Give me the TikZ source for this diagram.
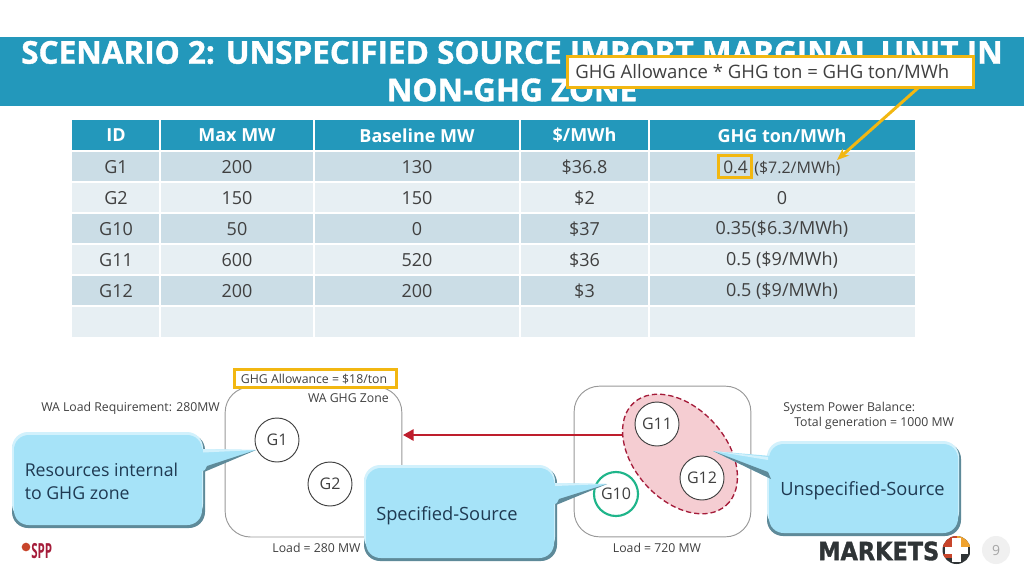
\documentclass[tikz,border=0pt]{standalone}
\usepackage{fontspec}
\setmainfont{Open Sans}
\newfontfamily\heavyfont[BoldFeatures={FakeBold=1.2}]{Open Sans}
\newfontfamily\logofont[BoldFeatures={FakeBold=1.5}]{DejaVu Sans}
\usetikzlibrary{shapes.geometric,arrows.meta}
\definecolor{band}{HTML}{2398BB}
\definecolor{rowdark}{HTML}{CBDDE6}
\definecolor{rowlight}{HTML}{E7EFF3}
\definecolor{ink}{HTML}{404040}
\definecolor{gold}{HTML}{F2B711}
\definecolor{darkred}{HTML}{A51C3A}
\definecolor{arrowred}{HTML}{BE1E2D}
\definecolor{pinkfill}{HTML}{F5CDD2}
\definecolor{callblue}{HTML}{A6E3F8}
\definecolor{callhi}{HTML}{D2F1FC}
\definecolor{calledge}{HTML}{5E8A99}
\definecolor{calltext}{HTML}{1F3A52}
\definecolor{green1}{HTML}{1FB58A}
\definecolor{logored}{HTML}{C8452B}
\definecolor{logoorange}{HTML}{EFA22E}
\definecolor{logodark}{HTML}{2F3436}
\tikzset{
  x=0.75pt,y=-0.75pt,
  cell/.style={text=ink,inner sep=0pt,font=\fontsize{13.5pt}{16pt}\selectfont},
  headcell/.style={text=white,inner sep=0pt,font=\fontsize{13.5pt}{16pt}\selectfont\bfseries},
  label/.style={text=ink,inner sep=0pt,font=\fontsize{9.2pt}{12pt}\selectfont},
  gen/.style={circle,draw=ink,line width=0.7pt,fill=white,minimum size=33pt,inner sep=0pt,text=ink,font=\fontsize{12pt}{14pt}\selectfont},
  zone/.style={draw=gray!80,line width=0.7pt,rounded corners=19pt,fill=white},
  callbox/.style={fill=callblue,rounded corners=11pt},
  callhigh/.style={fill=callhi,rounded corners=12pt},
  callshadow/.style={fill=calledge,rounded corners=12pt},
  calltxt/.style={text=calltext,inner sep=0pt,align=left,font=\fontsize{13.7pt}{17.5pt}\selectfont},
  titletxt/.style={text=white,inner sep=0pt,font=\heavyfont\fontsize{23.6pt}{26pt}\selectfont\bfseries},
  goldbox/.style={draw=gold,line width=2.2pt},
}
\begin{document}
\begin{tikzpicture}
\useasboundingbox (0,0) rectangle (1024,576);
\fill[white] (0,0) rectangle (1024,576);
% title band
\fill[band] (0,37) rectangle (1024,106);
\node[titletxt] (t1) at (512,52.5) {SCENARIO 2: UNSPECIFIED SOURCE IMPORT MARGINAL UNIT IN};
\node[titletxt] (t2) at (512,90) {NON-GHG ZONE};
% table
\fill[band] (72,120) rectangle (915,151);
\fill[rowdark] (72,151) rectangle (915,182);
\fill[rowlight] (72,182) rectangle (915,213);
\fill[rowdark] (72,213) rectangle (915,244);
\fill[rowlight] (72,244) rectangle (915,275);
\fill[rowdark] (72,275) rectangle (915,306);
\fill[rowlight] (72,306) rectangle (915,337);
\foreach \xx in {160,314,520,649} \draw[white,line width=0.9pt] (\xx,120) -- (\xx,337);
\foreach \yy in {151,182,213,244,275,306} \draw[white,line width=0.9pt] (72,\yy) -- (915,\yy);
\draw[white,line width=1.6pt] (72,151) -- (915,151);
\node[headcell] (h1) at (116,135.5) {ID};
\node[headcell] (h2) at (237,135.5) {Max MW};
\node[headcell] (h3) at (417,135.5) {Baseline MW};
\node[headcell] (h4) at (584.5,135.5) {\$/MWh};
\node[headcell] (h5) at (782,135.5) {GHG ton/MWh};
\node[cell] (a1) at (116,167.5) {G1};
\node[cell] (a2) at (237,167.5) {200};
\node[cell] (a3) at (417,167.5) {130};
\node[cell] (a4) at (584.5,167.5) {\$36.8};
\node[cell,anchor=base west,font=\fontsize{13pt}{16pt}\selectfont] (a5) at (723,173) {0.4};
\node[cell,anchor=base west,font=\fontsize{12pt}{14pt}\selectfont] (a6) at (754,173) {(\$7.2/MWh)};
\node[cell] (b1) at (116,198.5) {G2};
\node[cell] (b2) at (237,198.5) {150};
\node[cell] (b3) at (417,198.5) {150};
\node[cell] (b4) at (584.5,198.5) {\$2};
\node[cell] (b5) at (782,198.5) {0};
\node[cell] (c1) at (116,229.5) {G10};
\node[cell] (c2) at (237,229.5) {50};
\node[cell] (c3) at (417,229.5) {0};
\node[cell] (c4) at (584.5,229.5) {\$37};
\node[cell] (c5) at (782,229.5) {0.35(\$6.3/MWh)};
\node[cell] (d1) at (116,260.5) {G11};
\node[cell] (d2) at (237,260.5) {600};
\node[cell] (d3) at (417,260.5) {520};
\node[cell] (d4) at (584.5,260.5) {\$36};
\node[cell] (d5) at (782,260.5) {0.5 (\$9/MWh)};
\node[cell] (e1) at (116,291.5) {G12};
\node[cell] (e2) at (237,291.5) {200};
\node[cell] (e3) at (417,291.5) {200};
\node[cell] (e4) at (584.5,291.5) {\$3};
\node[cell] (e5) at (782,291.5) {0.5 (\$9/MWh)};
% yellow callout
\node[goldbox,fill=white,inner sep=0pt,minimum width=305pt,minimum height=23pt] (note) at (770.5,72) {};
\node[text=ink,anchor=west,inner sep=0pt,font=\fontsize{13.9pt}{16pt}\selectfont] (notetext) at (575,72) {GHG Allowance * GHG ton = GHG ton/MWh};
\node[goldbox,inner sep=0pt,minimum width=25pt,minimum height=16.5pt] (hl) at (735,166.5) {};
\coordinate (notefoot) at (918,88);
\coordinate (notetip) at (837,160);
\draw[gold,line width=2.2pt,-{Stealth[length=9pt,width=7pt]}] (notefoot) -- (notetip);
% zones
\node[zone,minimum width=132.5pt,minimum height=112.5pt,inner sep=0pt] (wa) at (313.5,462) {};
\node[zone,minimum width=132.5pt,minimum height=113pt,inner sep=0pt] (mz) at (662.5,461.5) {};
\node[goldbox,fill=white,inner sep=0pt,minimum width=122pt,minimum height=13.5pt] (allow) at (315.5,378.5) {};
\node[label] (allowt) at (314,379.5) {GHG Allowance = \$18/ton};
\node[label,anchor=east] (watxt) at (389,398) {WA GHG Zone};
\node[label,anchor=west] (walr) at (41,408) {WA Load Requirement: 280MW};
\node[label,anchor=west] (sys) at (783,408) {System Power Balance:};
\node[label,anchor=west] (tot) at (794,423.5) {Total generation = 1000 MW};
\node[label] (l1) at (316.5,548) {Load = 280 MW};
\node[label] (l2) at (657,548) {Load = 720 MW};
% unspecified group
\node[ellipse,rotate=-48,draw=darkred,fill=pinkfill,line width=1pt,dash pattern=on 4pt off 2.2pt,minimum width=103.5pt,minimum height=69pt,inner sep=0pt] (grp) at (680,454) {};
% red arrow
\coordinate (arrstart) at (622,435);
\coordinate (arrtip) at (403,435);
\draw[arrowred,line width=1.6pt,-{Triangle[length=8pt,width=8.5pt]}] (arrstart) -- (arrtip);
% generators
\node[gen] (g1) at (277,440) {G1};
\node[gen] (g2) at (330,484) {G2};
\node[gen] (g11) at (657,424) {G11};
\node[gen] (g12) at (702,478) {G12};
\node[gen,draw=green1,line width=1.6pt] (g10) at (616,494) {G10};
% callout 1
\fill[callshadow] (12,434) rectangle (205,528);
\fill[callhigh] (12,432) rectangle (203,520);
\fill[callbox] (14,435) rectangle (202,525);
\fill[callblue] (200,449) -- (256,450) -- (200,472) -- cycle;
\fill[callhi] (203,449) -- (256,450) -- (203,452.5) -- cycle;
\fill[calledge] (204,472) -- (256,450) -- (207,466) -- cycle;
\node[calltxt,anchor=west,font=\fontsize{13.3pt}{17.5pt}\selectfont] (c1t) at (24.5,481.5) {Resources internal\\to GHG zone};
% callout 2
\fill[callshadow] (364,467) rectangle (557,561);
\fill[callhigh] (364,465) rectangle (555,553);
\fill[callbox] (366,468) rectangle (554,558);
\fill[callblue] (552,483) -- (607,484) -- (552,505) -- cycle;
\fill[callhi] (555,483) -- (607,484) -- (555,486) -- cycle;
\fill[calledge] (556,505) -- (607,484) -- (559,499) -- cycle;
\node[calltxt,anchor=west] (c2t) at (376,516) {Specified-Source};
% callout 3
\fill[callshadow] (767,443) rectangle (961,536);
\fill[callhigh] (767,441) rectangle (959,528);
\fill[callbox] (769,444) rectangle (958,533);
\fill[callblue] (771,456) -- (713,451) -- (771,479) -- cycle;
\fill[callhi] (768,457) -- (713,451) -- (768,460) -- cycle;
\fill[calledge] (771,479) -- (713,451) -- (768,472) -- cycle;
\node[calltxt,anchor=west] (c3t) at (780,491) {Unspecified-Source};
% logos
\node[circle,fill=logored,inner sep=0pt,minimum size=6.5pt] (sppdot) at (26,547) {};
\node[text=darkred,inner sep=0pt,anchor=west,font=\fontsize{12pt}{14pt}\selectfont\bfseries] (spp) at (31,551) {\scalebox{0.72}[1.3]{SPP}};
\node[text=logodark,anchor=west,inner sep=0pt,font=\logofont\fontsize{16.8pt}{18pt}\selectfont\bfseries] (mk) at (818,551) {\scalebox{1}[1.12]{MARKETS}};
\begin{scope}
\clip (956.5,550) circle[radius=14];
\fill[logodark] (942,535) rectangle (971,565);
\fill[logored] (942,535) rectangle (956.5,547);
\fill[logoorange] (956.5,535) rectangle (971,547);
\fill[logored] (942,554) rectangle (952,558);
\fill[white] (952,538) rectangle (961,562);
\fill[white] (945,547) rectangle (968,554);
\end{scope}
\node[circle,fill=gray!12,inner sep=0pt,minimum size=21pt,text=gray!70,font=\fontsize{10.5pt}{12pt}\selectfont] (pg) at (996,550) {9};
\end{tikzpicture}
\end{document}
